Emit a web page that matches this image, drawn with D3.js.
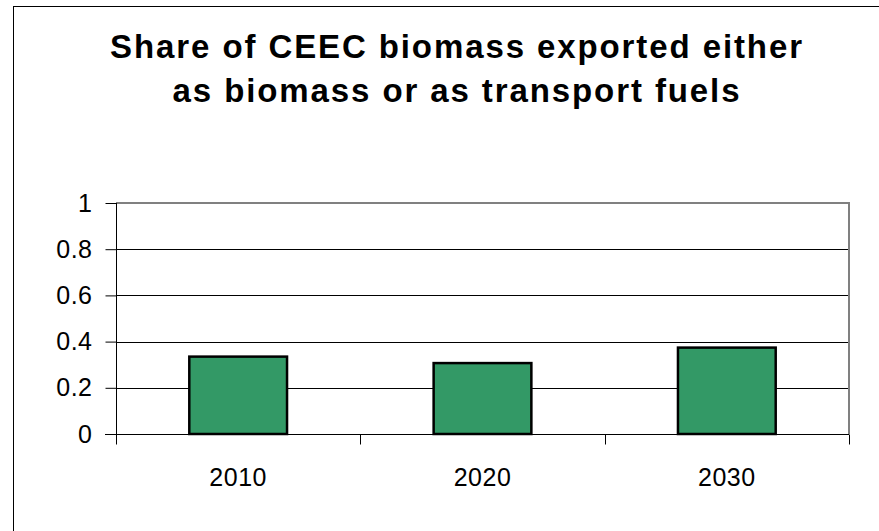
<!DOCTYPE html>
<html>
<head>
<meta charset="utf-8">
<script src="https://cdn.jsdelivr.net/npm/d3@7"></script>
<style>
  html, body { margin: 0; padding: 0; background: #fff; }
  svg { display: block; font-family: Arial, "Liberation Sans", sans-serif; }
</style>
</head>
<body>
<div id="chart"></div>
<script>
// data
const categories = ['2010', '2020', '2030'];
const shares = [0.335, 0.307, 0.374];
const yTicks = [0, 0.2, 0.4, 0.6, 0.8, 1];
const titleLines = ['Share of CEEC biomass exported either', 'as biomass or as transport fuels'];

const width = 879;
const height = 531;
const plot = { left: 116, top: 203, right: 849, bottom: 434 };

const svg = d3.select('#chart')
  .append('svg')
  .attr('width', width)
  .attr('height', height);

// outer frame
svg.append('rect')
  .attr('x', 13.5).attr('y', 6.5)
  .attr('width', width).attr('height', height)
  .attr('fill', '#fff')
  .attr('stroke', '#000')
  .attr('stroke-width', 1);

// title
svg.append('g')
  .selectAll('text')
  .data(titleLines)
  .enter()
  .append('text')
  .attr('x', 457)
  .attr('y', (d, i) => 58 + i * 44)
  .attr('text-anchor', 'middle')
  .attr('font-size', 33)
  .attr('font-weight', 'bold')
  .attr('letter-spacing', 1.9)
  .attr('fill', '#000')
  .text(d => d);

const x = d3.scaleBand()
  .domain(categories)
  .range([plot.left, plot.right])
  .paddingInner(0.6)
  .paddingOuter(0.3);

const y = d3.scaleLinear()
  .domain([0, 1])
  .range([plot.bottom, plot.top]);

// gridlines
svg.append('g')
  .selectAll('line')
  .data(yTicks.filter(t => t > 0 && t < 1))
  .enter()
  .append('line')
  .attr('x1', plot.left).attr('x2', plot.right)
  .attr('y1', d => Math.round(y(d)) + 0.5)
  .attr('y2', d => Math.round(y(d)) + 0.5)
  .attr('stroke', '#000')
  .attr('stroke-width', 1);

// plot area border (top + right grey)
svg.append('path')
  .attr('d', `M${plot.left},${plot.top} H${plot.right} V${plot.bottom}`)
  .attr('fill', 'none')
  .attr('stroke', '#808080')
  .attr('stroke-width', 2);

// bars
svg.append('g')
  .selectAll('rect')
  .data(categories)
  .enter()
  .append('rect')
  .attr('x', d => x(d))
  .attr('y', (d, i) => y(shares[i]))
  .attr('width', x.bandwidth())
  .attr('height', (d, i) => y(0) - y(shares[i]))
  .attr('fill', '#339966')
  .attr('stroke', '#000')
  .attr('stroke-width', 2.5);

// y axis
const yAxis = d3.axisLeft(y)
  .tickValues(yTicks)
  .tickFormat(d3.format('~g'))
  .tickSize(11)
  .tickPadding(13);

const yg = svg.append('g')
  .attr('transform', `translate(${plot.left + 0.5},0)`)
  .call(yAxis);
yg.select('.domain').attr('stroke', '#000').attr('d', `M0,${plot.top}V${plot.bottom}`);
yg.selectAll('.tick line').attr('stroke', '#000');
yg.selectAll('.tick text')
  .attr('font-size', 25)
  .attr('letter-spacing', 0.5)
  .attr('font-family', 'Arial, "Liberation Sans", sans-serif')
  .attr('fill', '#000');

// x axis: ticks at category boundaries
const xAxisG = svg.append('g')
  .attr('transform', `translate(0,${plot.bottom + 0.5})`);
xAxisG.append('line')
  .attr('x1', plot.left - 11).attr('x2', plot.right)
  .attr('y1', 0).attr('y2', 0)
  .attr('stroke', '#000');
const boundaries = categories.map(c => x(c) - x.step() * x.paddingInner() / 2)
  .concat([plot.right]);
xAxisG.selectAll('.bound')
  .data(boundaries)
  .enter()
  .append('line')
  .attr('class', 'bound')
  .attr('x1', d => Math.round(d) + 0.5).attr('x2', d => Math.round(d) + 0.5)
  .attr('y1', 0).attr('y2', 10)
  .attr('stroke', '#000');
xAxisG.selectAll('.lbl')
  .data(categories)
  .enter()
  .append('text')
  .attr('class', 'lbl')
  .attr('x', d => x(d) + x.bandwidth() / 2)
  .attr('y', 51)
  .attr('text-anchor', 'middle')
  .attr('font-size', 25)
  .attr('letter-spacing', 0.5)
  .attr('fill', '#000')
  .text(d => d);
</script>
</body>
</html>
